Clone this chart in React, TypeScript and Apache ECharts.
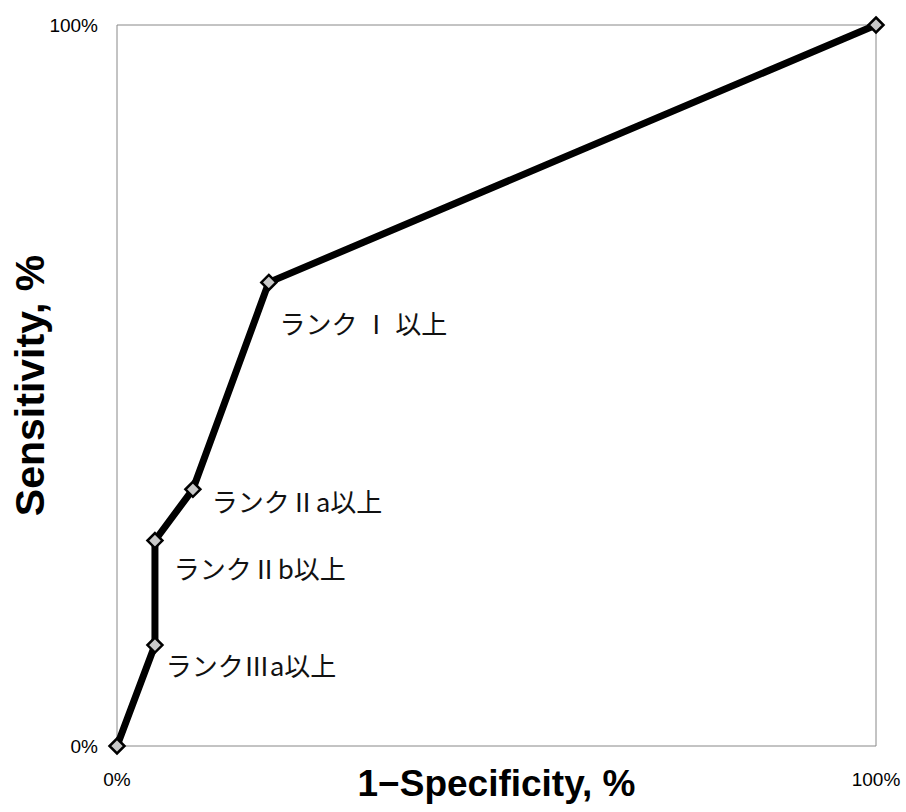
import React, { useEffect, useRef } from "react";
import * as echarts from "echarts";

const fpr = [0, 5, 5, 10, 20, 100];
const sensitivity = [0, 14, 28.5, 35.6, 64.3, 100];
const pointLabels = ["", "ランクⅢa以上", "ランクⅡb以上", "ランクⅡa以上", "ランク Ⅰ 以上", ""];
const labelOffsets: [number, number][] = [[0, 0], [2, 19], [10, 27], [10, 11], [2, 40], [0, 0]];
const xAxisTitle = "1\u2212Specificity, %";
const yAxisTitle = "Sensitivity, %";

export default function App() {
  const ref = useRef<HTMLDivElement>(null);
  useEffect(() => {
    if (!ref.current) return;
    const chart = echarts.init(ref.current, undefined, { renderer: "svg" });
    const data = fpr.map((x, i) => ({
      value: [x, sensitivity[i]],
      label: pointLabels[i]
        ? {
            show: true,
            position: "right",
            distance: 0,
            offset: labelOffsets[i],
            formatter: pointLabels[i],
            fontFamily: "Noto Sans CJK JP",
            fontSize: 26,
            color: "#111",
          }
        : { show: false },
    }));
    chart.setOption({
      animation: false,
      backgroundColor: "#fff",
      grid: {
        left: 117,
        top: 25,
        width: 759,
        height: 721,
        show: true,
        borderColor: "#888",
        borderWidth: 1,
        containLabel: false,
        outerBoundsMode: "none",
      },
      xAxis: {
        type: "value",
        min: 0,
        max: 100,
        interval: 100,
        name: xAxisTitle,
        nameLocation: "middle",
        nameGap: 19,
        nameMoveOverlap: false,
        nameTextStyle: { fontFamily: "Liberation Sans, Arial", fontWeight: "bold", fontSize: 37, color: "#000" },
        axisLine: { show: false },
        axisTick: { show: false },
        splitLine: { show: false },
        axisLabel: { formatter: "{value}%", margin: 24, fontFamily: "Liberation Sans, Arial", fontSize: 19, color: "#000" },
      },
      yAxis: {
        type: "value",
        min: 0,
        max: 100,
        interval: 100,
        name: yAxisTitle,
        nameLocation: "middle",
        nameGap: 67,
        nameMoveOverlap: false,
        nameTextStyle: { fontFamily: "Liberation Sans, Arial", fontWeight: "bold", fontSize: 41, color: "#000" },
        axisLine: { show: false },
        axisTick: { show: false },
        splitLine: { show: false },
        axisLabel: { formatter: "{value}%", margin: 19, fontFamily: "Liberation Sans, Arial", fontSize: 19, color: "#000" },
      },
      series: [
        {
          type: "line",
          data,
          lineStyle: { color: "#000", width: 7 },
          symbol: "diamond",
          symbolSize: 15,
          showAllSymbol: true,
          itemStyle: { color: "#c8c8c8", borderColor: "#000", borderWidth: 2.5 },
        },
      ],
    });
    return () => chart.dispose();
  }, []);
  return <div ref={ref} style={{ position: "fixed", left: 0, top: 0, width: 906, height: 812, background: "#fff" }} />;
}
